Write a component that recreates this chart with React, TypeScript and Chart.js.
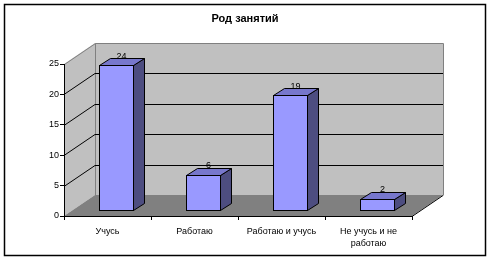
import React, { useEffect, useRef } from "react";
import { Chart, registerables } from "chart.js";

Chart.register(...registerables);

const titleText = "Род занятий";
const categories: (string | string[])[] = ["Учусь", "Работаю", "Работаю и учусь", ["Не учусь и не", "работаю"]];
const values = [24, 6, 19, 2];
const yMin = 0;
const yMax = 25;
const yStep = 5;
const wallGridValues = [5, 10, 15, 20];

const FONT = "Arial, 'Liberation Sans', sans-serif";
const WALL_DX = 31;
const WALL_DY = -21;
const BAR_SHIFT_X = 9;
const BAR_SHIFT_Y = -5;
const BAR_DX = 11;
const BAR_DY = -7;

const threeD = {
  id: "threeD",
  beforeDraw(chart: any) {
    const { ctx, chartArea } = chart;
    const L = chartArea.left, R = chartArea.right, T = chartArea.top, B = chartArea.bottom;
    const ys = chart.scales.y;
    ctx.save();
    ctx.fillStyle = "#ffffff";
    ctx.fillRect(0, 0, chart.width, chart.height);
    ctx.strokeStyle = "#000";
    ctx.lineWidth = 1.5;
    ctx.strokeRect(4.5, 4.5, 481, 251);

    // title
    ctx.fillStyle = "#000";
    ctx.font = `bold 11px ${FONT}`;
    ctx.textAlign = "center";
    ctx.textBaseline = "middle";
    ctx.fillText(titleText, chart.width / 2, 19);

    ctx.lineWidth = 1;
    // back wall
    ctx.fillStyle = "#c0c0c0";
    ctx.fillRect(L + WALL_DX, T + WALL_DY, R - L, B - T);
    // side wall
    ctx.beginPath();
    ctx.moveTo(L, T);
    ctx.lineTo(L + WALL_DX, T + WALL_DY);
    ctx.lineTo(L + WALL_DX, B + WALL_DY);
    ctx.lineTo(L, B);
    ctx.closePath();
    ctx.fill();
    // floor
    ctx.fillStyle = "#808080";
    ctx.beginPath();
    ctx.moveTo(L, B);
    ctx.lineTo(L + WALL_DX, B + WALL_DY);
    ctx.lineTo(R + WALL_DX, B + WALL_DY);
    ctx.lineTo(R, B);
    ctx.closePath();
    ctx.fill();
    // wall outlines
    ctx.strokeStyle = "#808080";
    ctx.beginPath();
    ctx.moveTo(L + 0.5, T + 0.5);
    ctx.lineTo(L + WALL_DX + 0.5, T + WALL_DY + 0.5);
    ctx.lineTo(R + WALL_DX + 0.5, T + WALL_DY + 0.5);
    ctx.lineTo(R + WALL_DX + 0.5, B + WALL_DY + 0.5);
    ctx.moveTo(L + WALL_DX + 0.5, T + WALL_DY + 0.5);
    ctx.lineTo(L + WALL_DX + 0.5, B + WALL_DY + 0.5);
    ctx.stroke();
    // gridlines
    ctx.strokeStyle = "#000";
    ctx.beginPath();
    for (const v of wallGridValues) {
      const y = Math.round(ys.getPixelForValue(v)) + 0.5;
      ctx.moveTo(L + WALL_DX, y + WALL_DY);
      ctx.lineTo(R + WALL_DX, y + WALL_DY);
      ctx.moveTo(L, y);
      ctx.lineTo(L + WALL_DX, y + WALL_DY);
    }
    ctx.moveTo(R, B + 0.5);
    ctx.lineTo(R + WALL_DX, B + WALL_DY + 0.5);
    ctx.stroke();
    ctx.restore();
  },
  beforeDatasetsDraw(chart: any) {
    chart.ctx.save();
    chart.ctx.translate(BAR_SHIFT_X, BAR_SHIFT_Y);
  },
  afterDatasetsDraw(chart: any) {
    const { ctx } = chart;
    const meta = chart.getDatasetMeta(0);
    ctx.lineWidth = 1;
    ctx.strokeStyle = "#000";
    const tops: { cx: number; top: number; v: number }[] = [];
    meta.data.forEach((el: any, i: number) => {
      const p = el.getProps(["x", "y", "base", "width"], true);
      const x0 = Math.round(p.x - p.width / 2) + 0.5;
      const x1 = Math.round(p.x + p.width / 2) - 0.5;
      const top = Math.round(p.y) + 0.5;
      const bot = Math.round(p.base) - 0.5;
      // side
      ctx.fillStyle = "#4d4d80";
      ctx.beginPath();
      ctx.moveTo(x1, top);
      ctx.lineTo(x1 + BAR_DX, top + BAR_DY);
      ctx.lineTo(x1 + BAR_DX, bot + BAR_DY);
      ctx.lineTo(x1, bot);
      ctx.closePath();
      ctx.fill();
      ctx.stroke();
      // top
      ctx.fillStyle = "#7777cc";
      ctx.beginPath();
      ctx.moveTo(x0, top);
      ctx.lineTo(x0 + BAR_DX, top + BAR_DY);
      ctx.lineTo(x1 + BAR_DX, top + BAR_DY);
      ctx.lineTo(x1, top);
      ctx.closePath();
      ctx.fill();
      ctx.stroke();
      // front outline
      ctx.strokeRect(x0, top, x1 - x0, bot - top);
      tops.push({ cx: p.x, top: p.y, v: values[i] });
    });
    ctx.fillStyle = "#000";
    ctx.font = `9px ${FONT}`;
    ctx.textAlign = "center";
    ctx.textBaseline = "middle";
    for (const t of tops) {
      ctx.fillText(String(t.v), t.cx + 5, t.top - 9);
    }
    ctx.restore();
  },
};

export default function App() {
  const ref = useRef<HTMLCanvasElement | null>(null);
  useEffect(() => {
    if (!ref.current) return;
    Chart.defaults.font.family = FONT;
    Chart.defaults.font.size = 9;
    Chart.defaults.color = "#000";
    const chart = new Chart(ref.current, {
      type: "bar",
      data: {
        labels: categories as any,
        datasets: [
          {
            data: values,
            backgroundColor: "#9999ff",
            borderWidth: 0,
            barPercentage: 0.4,
            categoryPercentage: 1,
          },
        ],
      },
      options: {
        animation: false,
        responsive: false,
        devicePixelRatio: 1,
        layout: { padding: { left: 0, right: 78, top: 64, bottom: 0 } },
        plugins: {
          legend: { display: false },
          tooltip: { enabled: false },
          title: { display: false },
        },
        scales: {
          x: {
            grid: { drawOnChartArea: false, color: "#000", tickLength: 4, offset: true },
            border: { color: "#000" },
            ticks: {
              color: "#000",
              padding: 5,
              maxRotation: 0,
              autoSkip: false,
              font: { family: FONT, size: 9, lineHeight: 1.4 },
            },
            afterFit: (s: any) => {
              s.height = 43;
            },
          },
          y: {
            min: yMin,
            max: yMax,
            grid: { drawOnChartArea: false, color: "#000", tickLength: 4 },
            border: { color: "#000" },
            ticks: { stepSize: yStep, color: "#000", padding: 1, font: { family: FONT, size: 9 } },
            afterFit: (s: any) => {
              s.width = 64;
            },
          },
        },
      } as any,
      plugins: [threeD],
    });
    return () => chart.destroy();
  }, []);
  return (
    <div style={{ position: "fixed", left: 0, top: 0, width: 490, height: 259, background: "#fff" }}>
      <canvas ref={ref} width={490} height={259} style={{ display: "block" }} />
    </div>
  );
}
